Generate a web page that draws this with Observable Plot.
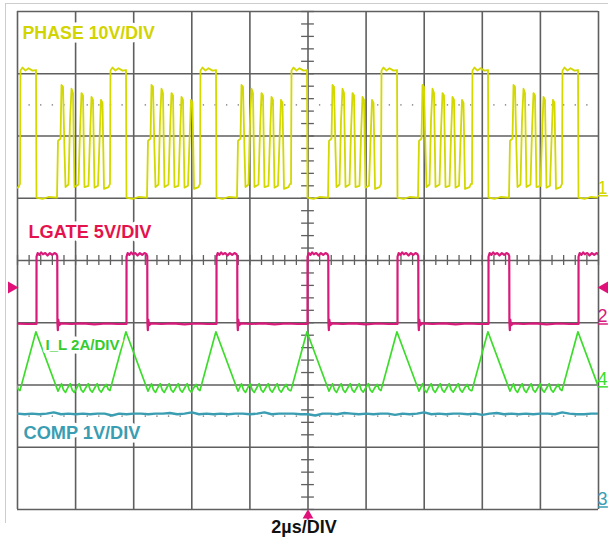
<!DOCTYPE html>
<html>
<head>
<meta charset="utf-8">
<script src="https://cdn.jsdelivr.net/npm/d3@7"></script>
<script src="https://cdn.jsdelivr.net/npm/@observablehq/plot@0.6"></script>
<style>
  body { margin: 0; background: #fff; }
  #scope { position: relative; width: 608px; height: 548px; }
  #scope svg { position: absolute; left: 0; top: 0; }
  #bezel { position: absolute; left: 5px; top: 3px; width: 603px; height: 519px;
           border-top: 1px solid #cdcdcd; border-left: 1px solid #cdcdcd; pointer-events: none; }
</style>
</head>
<body>
<div id="scope"><div id="bezel"></div></div>
<script>
// Channel captions, the on-screen channel numbers and the timebase caption
const channelNames = ["PHASE 10V/DIV", "LGATE 5V/DIV", "I_L 2A/DIV", "COMP 1V/DIV"];
const channelNumbers = ["1", "2", "4", "3"];
const timebase = "2µs/DIV";

// Low-side gate turn-on instants (µs from the left edge of the screen)
const lgateRise = [-2.444, 0.654, 3.752, 6.850, 9.983, 13.081, 16.213, 19.312];

// One switching cycle of the PHASE node, time relative to LGATE rising edge (µs), volts
const phaseCycleT = [-0.568, -0.551, -0.482, -0.379, -0.275, -0.138, -0.017, 0, 0.207, 0.413,
  0.706, 0.740, 0.826, 0.861, 0.912, 0.964, 0.998, 1.102, 1.153, 1.205, 1.256, 1.308, 1.446,
  1.497, 1.549, 1.601, 1.652, 1.790, 1.842, 1.893, 1.945, 1.997, 2.117, 2.169, 2.220, 2.272,
  2.324, 2.478, 2.530];
const phaseCycleV = [1.9, 20.1, 20.6, 20.1, 20.5, 20.1, 20.2, -0.3, -0.5, -0.2,
  -0.3, 8.8, 9.2, 17.8, 17.5, 7.2, 1.4, 1.8, 12.0, 17.2, 16.5, 1.4, 1.8,
  10.4, 16.5, 16.1, 1.4, 1.6, 9.6, 15.9, 15.4, 1.3, 1.6, 8.8, 15.4, 14.9,
  1.1, 1.4, 1.9];

// One cycle of the low-side gate drive (µs, volts)
const lgateCycleT = [0, 0.001, 0.04, 0.10, 0.16, 0.22, 0.30, 0.38, 0.46, 0.54, 0.62, 0.69,
  0.715, 0.72, 0.735, 0.75, 0.78, 0.85, 1.2, 1.6, 2.0, 2.4, 2.8, 3.09];
const lgateCycleV = [0, 5.4, 5.7, 5.55, 5.75, 5.6, 5.7, 5.5, 5.7, 5.55, 5.7, 5.6,
  5.45, 0.1, -0.5, 0.35, -0.1, 0.05, 0, 0.05, -0.03, 0.04, 0, 0];

// One cycle of the inductor current (µs, amps)
const ilCycleT = [-0.57, -0.02, 0.74, 0.80, 0.86, 0.93, 1.00, 1.08, 1.16, 1.23, 1.30, 1.39,
  1.47, 1.54, 1.61, 1.70, 1.78, 1.85, 1.92, 2.01, 2.09, 2.16, 2.23, 2.32, 2.40, 2.47, 2.53];
const ilCycleA = [-0.12, 1.77, -0.14, -0.02, 0.10, -0.10, -0.18, -0.02, 0.10, -0.10, -0.18, -0.02,
  0.10, -0.10, -0.17, -0.02, 0.10, -0.10, -0.17, -0.02, 0.10, -0.10, -0.17, -0.02, 0.08, -0.08, -0.12];

// Compensation node, sampled evenly across the 20 µs record (volts)
const compValues = [1.50, 1.49, 1.50, 1.49, 1.50, 1.52, 1.49, 1.50, 1.49, 1.50, 1.49, 1.50,
  1.50, 1.47, 1.50, 1.49, 1.50, 1.50, 1.49, 1.50, 1.50, 1.51, 1.49, 1.50, 1.52, 1.49, 1.50,
  1.49, 1.50, 1.49, 1.50, 1.50, 1.49, 1.50, 1.52, 1.49, 1.50, 1.50, 1.50, 1.49, 1.49, 1.47,
  1.50, 1.50, 1.49, 1.51, 1.50, 1.49, 1.50, 1.49, 1.50, 1.50, 1.48, 1.50, 1.49, 1.50, 1.52,
  1.49, 1.50, 1.49, 1.50, 1.50, 1.49, 1.50, 1.48, 1.50, 1.51, 1.49, 1.50, 1.49, 1.50, 1.49,
  1.50, 1.50, 1.49, 1.52, 1.50, 1.49, 1.49, 1.50, 1.50];

// Vertical settings: units per division, ground position (divisions from centre), trace colour
const ch = {
  phase: {perDiv: 10, ground: 1.04, color: "#d3d800", text: "#d2d400"},
  lgate: {perDiv: 5, ground: -1.02, color: "#d81b7a", text: "#e5134d"},
  il:    {perDiv: 2, ground: -2.03, color: "#3cdc2a", text: "#35cc2c"},
  comp:  {perDiv: 1, ground: -3.96, color: "#3a9db2", text: "#3a9db2"}
};

function repeatCycle(T, V, c) {
  const out = [];
  for (const r of lgateRise)
    for (let i = 0; i < T.length; i++) out.push({t: r + T[i], y: c.ground + V[i] / c.perDiv});
  return out;
}
const phase = repeatCycle(phaseCycleT, phaseCycleV, ch.phase);
const lgate = repeatCycle(lgateCycleT, lgateCycleV, ch.lgate);
const il = repeatCycle(ilCycleT, ilCycleA, ch.il);
const comp = compValues.map((v, i) => ({t: i * 20 / (compValues.length - 1), y: ch.comp.ground + v / ch.comp.perDiv}));

// Graticule
const gridT = d3.range(0, 20.001, 2);
const gridY = d3.range(-4, 4.001, 1);
const minorT = d3.range(0, 20.001, 0.4);
const minorY = d3.range(-4, 4.001, 0.2);
const dotted = d3.range(0.4, 20, 0.4)
  .filter(t => Math.abs(t / 2 - Math.round(t / 2)) > 0.01)
  .flatMap(t => [{t, y: 2.5}, {t, y: -2.5}]);

const gridColor = "#5f5f5f";
const font = "'Liberation Sans', Arial, Helvetica, sans-serif";

const order = ["phase", "lgate", "il", "comp"];
const captionStyle = {
  phase: {x: 0.172, y: 3.65, size: 17.8},
  lgate: {x: 0.379, y: 0.45, size: 18.2},
  il:    {x: 0.964, y: -1.365, size: 15},
  comp:  {x: 0.207, y: -2.78, size: 18.2}
};

const captions = order.map((k, i) =>
  Plot.text([channelNames[i]], {
    x: captionStyle[k].x, y: captionStyle[k].y, text: d => d,
    textAnchor: "start", fill: ch[k].text, fontSize: captionStyle[k].size, fontWeight: "bold",
    stroke: "white", strokeWidth: 7
  }));

const numbers = order.flatMap((k, i) => [
  Plot.text([channelNumbers[i]], {
    x: 20, y: ch[k].ground, text: d => d, dx: 4, dy: -2, lineAnchor: "bottom",
    fill: ch[k].color, fontSize: 18
  }),
  Plot.ruleY([ch[k].ground], {x1: 20, x2: 20.34, stroke: ch[k].color, strokeWidth: 1.5})
]);

const trig = "#e0127a";
const triggerLevel = -0.434;

const chart = Plot.plot({
  width: 608, height: 548,
  marginLeft: 17, marginRight: 10, marginTop: 11, marginBottom: 39,
  x: {domain: [0, 20], axis: null},
  y: {domain: [-4, 4], axis: null},
  style: {fontFamily: font, background: "white", overflow: "visible"},
  marks: [
    Plot.ruleX(gridT, {x: d => d, y1: -4, y2: 4, stroke: gridColor, strokeWidth: 1.6}),
    Plot.ruleY(gridY, {y: d => d, x1: 0, x2: 20, stroke: gridColor, strokeWidth: 1.6}),
    Plot.ruleX(minorT, {x: d => d, y1: -0.08, y2: 0.08, stroke: gridColor, strokeWidth: 1.3}),
    Plot.ruleY(minorY, {y: d => d, x1: 9.78, x2: 10.22, stroke: gridColor, strokeWidth: 1.3}),
    Plot.dot(dotted, {x: "t", y: "y", r: 0.8, fill: "#8a8a8a"}),
    Plot.line(comp, {x: "t", y: "y", stroke: ch.comp.color, strokeWidth: 2.4, clip: true}),
    Plot.line(il, {x: "t", y: "y", stroke: ch.il.color, strokeWidth: 1.7, clip: true}),
    Plot.line(lgate, {x: "t", y: "y", stroke: ch.lgate.color, strokeWidth: 2.2, clip: true}),
    Plot.line(phase, {x: "t", y: "y", stroke: ch.phase.color, strokeWidth: 1.8, clip: true}),
    ...captions,
    ...numbers,
    // trigger level markers on both edges and trigger position at the bottom
    Plot.dot([triggerLevel], {x: 0, y: d => d, dx: -6, symbol: "triangle", rotate: 90, r: 4.5, fill: trig}),
    Plot.dot([triggerLevel], {x: 20, y: d => d, dx: 6, symbol: "triangle", rotate: -90, r: 4.5, fill: trig}),
    Plot.dot([10], {x: d => d, y: -4, dy: 6, symbol: "triangle", r: 4, fill: trig}),
    Plot.ruleX([10], {x: d => d, y1: -4.12, y2: -4.17, stroke: trig, strokeWidth: 2.5}),
    Plot.text([timebase], {frameAnchor: "bottom", dy: 23, dx: -4, text: d => d,
      fontSize: 18, fontWeight: "bold", fill: "#111"})
  ]
});

document.getElementById("scope").prepend(chart);
</script>
</body>
</html>
